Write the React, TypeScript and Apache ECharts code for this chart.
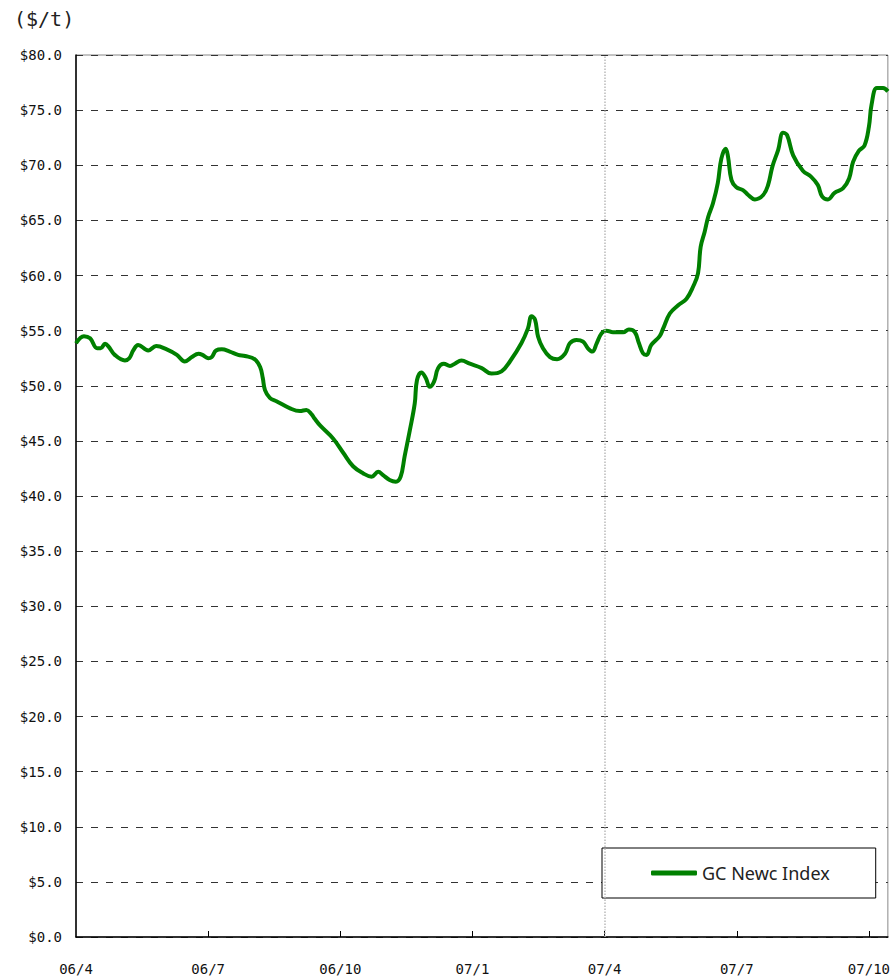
import React, { useEffect, useRef } from "react";
import * as echarts from "echarts";

// months elapsed since April 2006 (06/4 = 0)
const months = [
  0, 0.18, 0.32, 0.48, 0.56, 0.66, 0.73, 0.88, 1.11, 1.21, 1.3, 1.41, 1.64, 1.82, 2.06, 2.29,
  2.47, 2.63, 2.78, 2.87, 3.0, 3.08, 3.18, 3.31, 3.49, 3.68, 3.84, 4.06, 4.18, 4.24, 4.29, 4.4,
  4.55, 4.86, 5.08, 5.23, 5.35, 5.42, 5.54, 5.84, 6.07, 6.29, 6.52, 6.71, 6.86, 6.97, 7.12, 7.26,
  7.37, 7.46, 7.58, 7.69, 7.74, 7.84, 7.94, 8.03, 8.13, 8.22, 8.35, 8.49, 8.6, 8.75, 8.94, 9.21,
  9.43, 9.66, 9.85, 10.11, 10.26, 10.34, 10.42, 10.49, 10.6, 10.76, 10.92, 11.1, 11.21, 11.36,
  11.51, 11.62, 11.72, 11.82, 11.93, 12.04, 12.19, 12.42, 12.55, 12.68, 12.78, 12.87, 12.95,
  13.06, 13.25, 13.33, 13.48, 13.67, 13.86, 14.01, 14.12, 14.18, 14.27, 14.35, 14.46, 14.57,
  14.65, 14.75, 14.8, 14.88, 14.99, 15.14, 15.26, 15.41, 15.6, 15.71, 15.81, 15.94, 16.05,
  16.14, 16.28, 16.5, 16.69, 16.84, 16.94, 17.07, 17.22, 17.41, 17.55, 17.64, 17.77, 17.9,
  18.0, 18.06, 18.18, 18.32, 18.43,
];

// GC Newc Index ($/t)
const prices = [
  53.85, 54.5, 54.3, 53.4, 53.4, 53.8, 53.6, 52.8, 52.3, 52.5, 53.2, 53.7, 53.2, 53.6, 53.3, 52.8,
  52.2, 52.6, 52.9, 52.8, 52.5, 52.6, 53.2, 53.3, 53.1, 52.8, 52.7, 52.4, 51.7, 50.7, 49.6, 48.9,
  48.6, 47.95, 47.7, 47.8, 47.4, 47.0, 46.4, 45.2, 43.9, 42.7, 42.05, 41.75, 42.2, 41.9, 41.45, 41.3,
  41.75, 43.6, 46.0, 48.4, 50.5, 51.2, 50.7, 49.9, 50.4, 51.6, 52.0, 51.8, 52.0, 52.3, 52.0, 51.6,
  51.1, 51.3, 52.2, 53.85, 55.2, 56.3, 56.0, 54.45, 53.4, 52.6, 52.4, 52.9, 53.85, 54.15,
  54.0, 53.4, 53.1, 53.85, 54.75, 55.0, 54.85, 54.85, 55.1, 54.9, 53.85, 52.95, 52.8,
  53.7, 54.5, 55.2, 56.55, 57.3, 57.9, 59.0, 60.2, 62.6, 63.95, 65.3, 66.55, 68.4,
  70.6, 71.5, 70.8, 68.65, 68.0, 67.75, 67.3, 66.9, 67.3, 68.2, 69.9, 71.4, 72.95,
  72.75, 70.9, 69.5, 68.95, 68.2, 67.15, 66.9, 67.5, 67.9, 68.8, 70.3, 71.3, 71.8,
  73.5, 75.5, 77.0, 77.0, 76.7,
];

const tickMonths = [0, 3, 6, 9, 12, 15, 18];
const tickLabels = ["06/4", "06/7", "06/10", "07/1", "07/4", "07/7", "07/10"];
const seriesName = "GC Newc Index";
const unitLabel = "($/t)";
const dividerMonth = 12;

export default function App() {
  const ref = useRef<HTMLDivElement>(null);

  useEffect(() => {
    if (!ref.current) return;
    const chart = echarts.init(ref.current, null, { renderer: "svg" });
    const mono = "DejaVu Sans Mono";
    chart.setOption({
      animation: false,
      backgroundColor: "#ffffff",
      title: {
        text: unitLabel,
        left: 9,
        top: 4,
        textStyle: { fontFamily: mono, fontSize: 20, fontWeight: "normal", color: "#222" },
      },
      grid: {
        left: 76,
        right: 5,
        top: 55,
        bottom: 42,
        show: true,
        borderColor: "#888",
        borderWidth: 1,
      },
      legend: {
        left: 602,
        top: 848,
        orient: "horizontal",
        padding: [16, 46, 16, 49],
        itemWidth: 46,
        itemHeight: 5,
        itemGap: 0,
        borderColor: "#000",
        borderWidth: 1,
        backgroundColor: "#fff",
        textStyle: { fontFamily: "Noto Sans", fontSize: 18, color: "#222" },
        data: [{ name: seriesName, icon: "roundRect" }],
        itemStyle: { color: "#008000" },
      },
      xAxis: {
        type: "value",
        min: 0,
        max: 18.43,
        interval: 3,
        splitLine: { show: false },
        axisLine: { show: true, onZero: false, lineStyle: { color: "#000", width: 1.5 } },
        axisTick: {
          show: true,
          inside: true,
          length: 6,
          customValues: tickMonths.slice(1),
          lineStyle: { color: "#000", width: 1 },
        },
        axisLabel: {
          customValues: tickMonths,
          margin: 25,
          fontFamily: mono,
          fontSize: 14,
          color: "#111",
          formatter: (v: number) => {
            const i = tickMonths.indexOf(Math.round(v));
            return i >= 0 ? tickLabels[i] : "";
          },
        },
      },
      yAxis: {
        type: "value",
        min: 0,
        max: 80,
        interval: 5,
        axisLine: { show: true, lineStyle: { color: "#000", width: 1.5 } },
        axisTick: { show: false },
        axisLabel: {
          margin: 14,
          fontFamily: mono,
          fontSize: 14,
          color: "#111",
          formatter: (v: number) => "$" + v.toFixed(1),
        },
        splitLine: {
          show: true,
          lineStyle: { color: "#333", width: 1, type: [7, 8] },
        },
      },
      series: [
        {
          name: seriesName,
          type: "line",
          data: months.map((m, i) => [m, prices[i]]),
          smooth: 0.4,
          symbol: "none",
          showSymbol: false,
          lineStyle: { color: "#008000", width: 4 },
          itemStyle: { color: "#008000" },
          markLine: {
            silent: true,
            symbol: "none",
            label: { show: false },
            lineStyle: { color: "#bbb", width: 1.5, type: "dotted" },
            data: [{ xAxis: dividerMonth }],
          },
          z: 3,
        },
      ],
    });
    return () => chart.dispose();
  }, []);

  return (
    <div
      ref={ref}
      style={{ position: "absolute", left: 0, top: 0, width: 893, height: 979 }}
    />
  );
}
